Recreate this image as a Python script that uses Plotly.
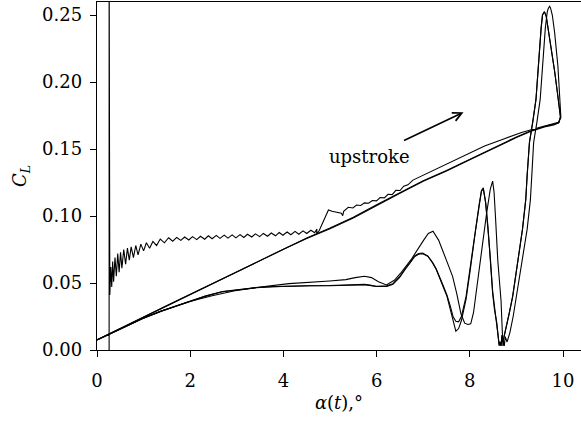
import plotly.graph_objects as go

# ---------------------------------------------------------------
# Lift coefficient C_L against pitch angle alpha(t) for three
# pitching cycles (cycle 1 includes the start-up transient).
# ---------------------------------------------------------------

# Cycle 1: upstroke including impulsive start and wavy transient
alpha_up_1 = [
    0.26, 0.26, 0.265, 0.275,
    0.296, 0.316, 0.336, 0.356, 0.386, 0.415, 0.445, 0.475, 0.505, 0.534,
    0.574, 0.614, 0.653, 0.693, 0.733, 0.782, 0.832, 0.881, 0.941, 1.000,
    1.060, 1.129, 1.199, 1.278, 1.357, 1.446, 1.536, 1.625,
    1.71, 1.80, 1.88, 1.97, 2.05, 2.14, 2.22, 2.31, 2.39, 2.47,
    2.56, 2.64, 2.73, 2.81, 2.90, 2.98, 3.07, 3.15, 3.23, 3.32,
    3.40, 3.49, 3.57, 3.66, 3.74, 3.83, 3.91, 3.99, 4.08, 4.16,
    4.25, 4.33, 4.42, 4.50, 4.59, 4.67, 4.72,
    4.713, 4.767, 4.867, 4.966, 5.045, 5.144, 5.243, 5.273, 5.293, 5.392,
    5.491, 5.570, 5.660, 5.739, 5.828, 5.908, 5.997, 6.076, 6.166, 6.245,
    6.334, 6.413, 6.503, 6.582, 6.671, 6.780, 6.929, 7.127, 7.325, 7.524,
    7.722, 7.920, 8.317, 8.713, 9.110, 9.507, 9.903,
]
cl_up_1 = [
    -0.02, 0.30, 0.060, 0.041,
    0.062, 0.047, 0.066, 0.051, 0.069, 0.055, 0.072, 0.058, 0.073, 0.061,
    0.075, 0.064, 0.076, 0.067, 0.077, 0.069, 0.078, 0.071, 0.079, 0.074,
    0.080, 0.076, 0.081, 0.078, 0.0828, 0.0800, 0.0838, 0.0812,
    0.0840, 0.0818, 0.0843, 0.0821, 0.0846, 0.0824, 0.0849, 0.0827, 0.0852, 0.0830,
    0.0855, 0.0833, 0.0857, 0.0835, 0.0859, 0.0837, 0.0861, 0.0840, 0.0864, 0.0843,
    0.0867, 0.0846, 0.0870, 0.0849, 0.0873, 0.0852, 0.0877, 0.0856, 0.0881, 0.0860,
    0.0885, 0.0864, 0.0889, 0.0869, 0.0894, 0.0875, 0.0902,
    0.0868, 0.0890, 0.0970, 0.1045, 0.1035, 0.1025, 0.1020, 0.1003, 0.1035, 0.1065,
    0.1060, 0.1082, 0.1078, 0.1098, 0.1095, 0.1116, 0.1113, 0.1138, 0.1135, 0.1162,
    0.1160, 0.1192, 0.1190, 0.1222, 0.1233, 0.1268, 0.1293, 0.1323, 0.1358, 0.1393,
    0.1428, 0.1458, 0.1522, 0.1573, 0.1623, 0.1663, 0.1700,
]

# Cycle 1: stall peak near maximum incidence
alpha_top_1 = [9.955, 9.95, 9.94, 9.89, 9.82, 9.77, 9.73, 9.71, 9.68, 9.66,
               9.62, 9.57, 9.51, 9.44, 9.37, 9.33, 9.30, 9.23, 9.15, 9.08,
               9.00, 8.93, 8.86, 8.80, 8.76, 8.74, 8.72, 8.71]
cl_top_1 = [0.1735, 0.1760, 0.1870, 0.2120, 0.2370, 0.2500, 0.2555, 0.2565, 0.2545, 0.2520,
            0.2400, 0.2120, 0.1870, 0.1700, 0.1550, 0.1300, 0.1120, 0.0900, 0.0720, 0.0580,
            0.0400, 0.0250, 0.0130, 0.0060, 0.0100, 0.0030, 0.0070, 0.0030]

# Cycle 1: downstroke
alpha_dn_1 = [8.67, 8.60, 8.55, 8.52, 8.49, 8.44, 8.36, 8.27, 8.17, 8.08,
              8.02, 7.96, 7.89, 7.81, 7.72, 7.63, 7.52, 7.43, 7.33, 7.21,
              7.11, 7.01, 6.88, 6.74, 6.53, 6.38, 6.21, 6.04, 5.89, 5.74,
              5.54, 5.34, 4.99, 4.65, 4.12, 3.46, 2.96, 2.47, 1.97, 1.67,
              1.38, 0.98, 0.49, 0.00]
cl_dn_1 = [0.0370, 0.0670, 0.1000, 0.1180, 0.1260, 0.1200, 0.1020, 0.0780, 0.0500, 0.0280,
           0.0195, 0.0190, 0.0200, 0.0270, 0.0420, 0.0550, 0.0650, 0.0736, 0.0820, 0.0886,
           0.0870, 0.0820, 0.0750, 0.0674, 0.0580, 0.0520, 0.0485, 0.0510, 0.0540, 0.0550,
           0.0540, 0.0525, 0.0515, 0.0505, 0.0495, 0.0468, 0.0442, 0.0405, 0.0360, 0.0325,
           0.0290, 0.0235, 0.0155, 0.0075]

# Cycles 2 and 3: upstroke
alpha_up = [0.00, 0.50, 1.00, 1.50, 2.00, 2.50, 3.00, 3.50, 4.00, 4.50,
            5.00, 5.50, 6.00, 6.50, 7.00, 7.50, 8.00, 8.50, 9.00, 9.30,
            9.60, 9.80, 9.91]
cl_up_2 = [0.0075, 0.0160, 0.0244, 0.0329, 0.0413, 0.0498, 0.0582, 0.0667, 0.0752, 0.0832,
           0.0905, 0.0985, 0.1080, 0.1170, 0.1260, 0.1335, 0.1420, 0.1505, 0.1585, 0.1630,
           0.1665, 0.1680, 0.1695]
cl_up_3 = [0.0075, 0.0162, 0.0246, 0.0332, 0.0416, 0.0500, 0.0585, 0.0670, 0.0755, 0.0835,
           0.0910, 0.0990, 0.1084, 0.1174, 0.1263, 0.1340, 0.1425, 0.1510, 0.1590, 0.1634,
           0.1668, 0.1684, 0.1698]

# Cycles 2 and 3: stall peak
alpha_top = [9.945, 9.92, 9.88, 9.82, 9.76, 9.70, 9.64, 9.60, 9.56, 9.53,
             9.48, 9.42, 9.35, 9.28, 9.23, 9.20, 9.13, 9.06, 9.00, 8.92,
             8.85, 8.79, 8.74, 8.71, 8.69, 8.67, 8.65]
cl_top = [0.1740, 0.1820, 0.1920, 0.2080, 0.2220, 0.2370, 0.2490, 0.2525, 0.2500, 0.2400,
          0.2120, 0.1870, 0.1700, 0.1550, 0.1300, 0.1120, 0.0900, 0.0720, 0.0580, 0.0400,
          0.0280, 0.0180, 0.0120, 0.0060, 0.0110, 0.0030, 0.0060]

# Cycles 2 and 3: downstroke
alpha_dn = [8.63, 8.58, 8.53, 8.49, 8.44, 8.39, 8.34, 8.29, 8.25, 8.20,
            8.11, 8.01, 7.92, 7.82, 7.76, 7.70, 7.64, 7.58, 7.51, 7.43,
            7.35, 7.28, 7.20, 7.10, 6.99, 6.90, 6.81, 6.74, 6.63, 6.49,
            6.35, 6.22, 6.10, 5.99, 5.85, 5.74, 5.60, 5.35, 4.99, 4.56,
            4.13, 3.76, 3.42, 3.06, 2.69, 2.32, 1.97, 1.67, 1.38, 0.98,
            0.49, 0.00]
cl_dn_2 = [0.0030, 0.0200, 0.0300, 0.0420, 0.0680, 0.0920, 0.1100, 0.1210, 0.1190, 0.1080,
           0.0860, 0.0600, 0.0380, 0.0220, 0.0160, 0.0140, 0.0220, 0.0310, 0.0400, 0.0470,
           0.0540, 0.0600, 0.0650, 0.0700, 0.0724, 0.0720, 0.0700, 0.0660, 0.0610, 0.0540,
           0.0490, 0.0475, 0.0474, 0.0474, 0.0482, 0.0487, 0.0485, 0.0482, 0.0480, 0.0479,
           0.0478, 0.0472, 0.0465, 0.0452, 0.0435, 0.0400, 0.0360, 0.0325, 0.0290, 0.0235,
           0.0155, 0.0075]
cl_dn_3 = [0.0040, 0.0180, 0.0320, 0.0440, 0.0690, 0.0930, 0.1100, 0.1200, 0.1185, 0.1085,
           0.0870, 0.0615, 0.0400, 0.0250, 0.0210, 0.0215, 0.0250, 0.0330, 0.0410, 0.0480,
           0.0550, 0.0605, 0.0655, 0.0700, 0.0718, 0.0715, 0.0695, 0.0660, 0.0612, 0.0545,
           0.0495, 0.0480, 0.0478, 0.0476, 0.0484, 0.0490, 0.0488, 0.0484, 0.0481, 0.0480,
           0.0479, 0.0473, 0.0466, 0.0453, 0.0436, 0.0402, 0.0362, 0.0327, 0.0291, 0.0236,
           0.0156, 0.0075]

x_ticks = [0, 2, 4, 6, 8, 10]
y_ticks = [0.00, 0.05, 0.10, 0.15, 0.20, 0.25]

FONT = "DejaVu Serif"
FSIZE = 18

cycles = [
    (alpha_up_1 + alpha_top_1 + alpha_dn_1, cl_up_1 + cl_top_1 + cl_dn_1),
    (alpha_up + alpha_top + alpha_dn, cl_up_2 + cl_top + cl_dn_2),
    (alpha_up + alpha_top + alpha_dn, cl_up_3 + cl_top + cl_dn_3),
]

fig = go.Figure()
for xs, ys in cycles:
    fig.add_trace(go.Scatter(
        x=xs, y=ys, mode="lines",
        line=dict(color="black", width=1.1),
        showlegend=False, hoverinfo="skip",
    ))

# Direction of travel along the upper branch
fig.add_annotation(
    x=7.865, y=0.1775, ax=6.556, ay=0.1558,
    xref="x", yref="y", axref="x", ayref="y",
    text="", showarrow=True, arrowhead=5, arrowsize=1.1,
    arrowwidth=1.6, arrowcolor="black",
)
fig.add_annotation(
    x=5.85, y=0.1444, xref="x", yref="y",
    text="upstroke", showarrow=False,
    font=dict(family=FONT, size=FSIZE, color="black"),
)

axis_common = dict(
    showline=True, linecolor="black", linewidth=1.4,
    ticks="outside", ticklen=6, tickwidth=1.3, tickcolor="black",
    showgrid=False, zeroline=False,
    tickfont=dict(family=FONT, size=FSIZE, color="black"),
)

fig.update_xaxes(
    range=[0, 10.386], tickvals=x_ticks, ticktext=[str(v) for v in x_ticks],
    mirror=True, ticklabelstandoff=8,
    title=dict(text="<i>α</i>(<i>t</i>),°", standoff=6,
               font=dict(family=FONT, size=FSIZE, color="black")),
    **axis_common,
)
fig.update_yaxes(
    range=[0, 0.2597], tickvals=y_ticks, ticktext=[f"{v:.2f}" for v in y_ticks],
    ticklabelstandoff=4,
    title=dict(text="<i>C<sub>L</sub></i>", standoff=10,
               font=dict(family=FONT, size=FSIZE, color="black")),
    **axis_common,
)

fig.update_layout(
    width=581, height=421,
    margin=dict(l=97, r=0, t=2, b=71, autoexpand=False),
    paper_bgcolor="white", plot_bgcolor="white",
    font=dict(family=FONT, size=FSIZE, color="black"),
)

fig.write_html("out.html")
